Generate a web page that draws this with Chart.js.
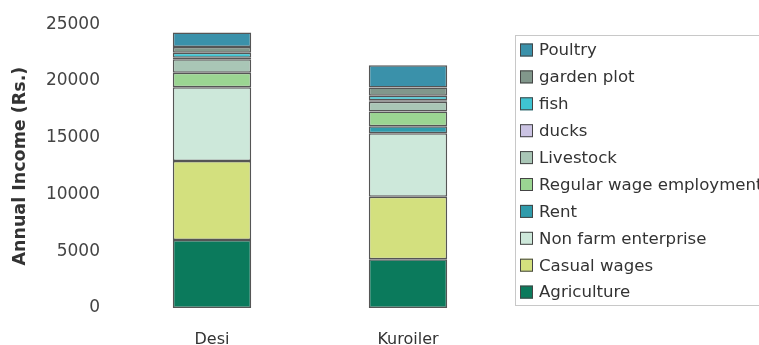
<!DOCTYPE html>
<html>
<head>
<meta charset="utf-8">
<script src="https://cdn.jsdelivr.net/npm/chart.js@4"></script>
<style>
  html, body { margin: 0; padding: 0; background: #ffffff; }
  #wrap { width: 759px; height: 345px; position: relative; }
</style>
</head>
<body>
<div id="wrap"><canvas id="c" width="759" height="345"></canvas></div>
<script>
// Income sources per bird type (Rs. per year), stacked bottom to top
const categories = ['Desi', 'Kuroiler'];
const agriculture   = [5990, 4290];
const casualWages   = [6950, 5510];
const nonFarm       = [6510, 5600];
const rent          = [0, 620];
const regularWage   = [1280, 1280];
const livestock     = [1190, 860];
const ducks         = [130, 150];
const fish          = [440, 380];
const gardenPlot    = [510, 740];
const poultry       = [1270, 1960];
const yTicks = [0, 5000, 10000, 15000, 20000, 25000];

const series = [
  { label: 'Agriculture', data: agriculture, color: '#0b7a5c' },
  { label: 'Casual wages', data: casualWages, color: '#d3e07e' },
  { label: 'Non farm enterprise', data: nonFarm, color: '#cde8da' },
  { label: 'Rent', data: rent, color: '#2f9bab' },
  { label: 'Regular wage employment', data: regularWage, color: '#9bd592' },
  { label: 'Livestock', data: livestock, color: '#a9c6b6' },
  { label: 'ducks', data: ducks, color: '#cbc3e3' },
  { label: 'fish', data: fish, color: '#3fc4d2' },
  { label: 'garden plot', data: gardenPlot, color: '#81978b' },
  { label: 'Poultry', data: poultry, color: '#3a91aa' }
];

const FONT = '"DejaVu Sans", Verdana, sans-serif';

// Boxed legend on the right, listed top-down (reverse of stacking)
const boxLegend = {
  id: 'boxLegend',
  afterDraw(chart) {
    const ctx = chart.ctx;
    const x0 = 515, y0 = 35, y1 = 305;
    ctx.save();
    ctx.strokeStyle = '#c8c8c8';
    ctx.lineWidth = 1;
    ctx.strokeRect(x0 + 0.5, y0 + 0.5, 300, y1 - y0);
    ctx.font = '16.6px ' + FONT;
    ctx.textBaseline = 'middle';
    const ds = chart.data.datasets.slice().reverse();
    ds.forEach((d, i) => {
      const cy = 50 + i * 26.9;
      ctx.fillStyle = d.backgroundColor;
      ctx.fillRect(520, cy - 6.5, 13, 13);
      ctx.strokeStyle = '#444';
      ctx.lineWidth = 1;
      ctx.strokeRect(520.5, cy - 6, 12, 12);
      ctx.fillStyle = '#333';
      ctx.fillText(d.label, 539, cy + 1);
    });
    ctx.restore();
  }
};

new Chart(document.getElementById('c'), {
  type: 'bar',
  data: {
    labels: categories,
    datasets: series.map(s => ({
      label: s.label,
      data: s.data,
      backgroundColor: s.color,
      borderColor: '#555555',
      borderWidth: 1.5,
      borderSkipped: false,
      categoryPercentage: 0.8,
      barPercentage: 0.5
    }))
  },
  options: {
    responsive: false,
    animation: false,
    layout: { padding: { top: 24, right: 253, bottom: 0, left: 0 } },
    plugins: { legend: { display: false }, tooltip: { enabled: false } },
    scales: {
      x: {
        stacked: true,
        grid: { display: false, drawTicks: false },
        border: { display: false },
        ticks: { color: '#333', font: { family: FONT, size: 16 }, padding: 22 },
        afterFit(scale) { scale.height = 37; }
      },
      y: {
        stacked: true,
        min: 0,
        max: 25000,
        afterBuildTicks(scale) { scale.ticks = yTicks.map(v => ({ value: v })); },
        grid: { display: false, drawTicks: false },
        border: { display: false },
        ticks: {
          color: '#444',
          font: { family: FONT, size: 17 },
          padding: 14,
          callback: v => String(v)
        },
        title: {
          display: true,
          text: 'Annual Income (Rs.)',
          color: '#333',
          font: { family: FONT, size: 17.5, weight: 'bold' },
          padding: { top: 10, bottom: 0 }
        },
        afterFit(scale) { scale.width = 114; }
      }
    }
  },
  plugins: [boxLegend]
});
</script>
</body>
</html>
